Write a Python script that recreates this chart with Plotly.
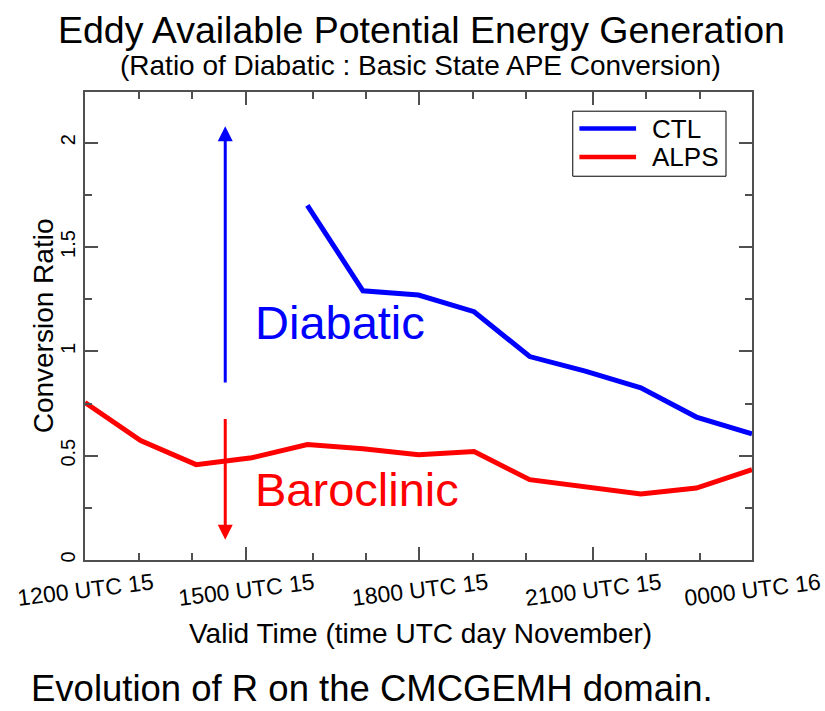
import plotly.graph_objects as go

# Hourly samples from 1200 UTC 15 Nov (hour 0) to 0000 UTC 16 Nov (hour 12)
hours = list(range(13))
ctl_hours = hours[4:]
ctl_ratio = [1.70, 1.29, 1.27, 1.19, 0.975, 0.905, 0.825, 0.685, 0.605]
alps_ratio = [0.755, 0.573, 0.457, 0.49, 0.553, 0.533, 0.505, 0.52,
              0.385, 0.348, 0.316, 0.345, 0.433]

tick_hours = [0, 2.895, 6.017, 9.135, 12]
tick_labels = ["1200 UTC 15", "1500 UTC 15", "1800 UTC 15",
               "2100 UTC 15", "0000 UTC 16"]
minor_tick_hours = [0.964, 1.924, 4.093, 5.053, 6.977, 7.936, 10.094, 11.06]

# Regime arrows: (hour, tail, tip)
diabatic_arrow = (2.523, 0.844, 2.079)
baroclinic_arrow = (2.523, 0.683, 0.097)

FONT = "Liberation Sans, Arial, Helvetica, sans-serif"
BLUE = "#0000ff"
RED = "#ff0000"
AXIS = "#505050"

fig = go.Figure()
fig.add_trace(go.Scatter(x=ctl_hours, y=ctl_ratio, mode="lines", name="CTL",
                         line=dict(color=BLUE, width=5), showlegend=False))
fig.add_trace(go.Scatter(x=hours, y=alps_ratio, mode="lines", name="ALPS",
                         line=dict(color=RED, width=5), showlegend=False))

annotations = []
for (hx, tail, tip), col in ((diabatic_arrow, BLUE), (baroclinic_arrow, RED)):
    annotations.append(dict(x=hx, y=tip, ax=hx, ay=tail, xref="x", yref="y",
                            axref="x", ayref="y", text="", showarrow=True,
                            arrowhead=2, arrowsize=1, arrowwidth=3,
                            arrowcolor=col, standoff=0, startstandoff=0))

annotations += [
    dict(x=3.03, y=1.14, xref="x", yref="y", text="Diabatic", showarrow=False,
         xanchor="left", yanchor="middle", font=dict(family=FONT, size=47, color=BLUE)),
    dict(x=3.02, y=0.34, xref="x", yref="y", text="Baroclinic", showarrow=False,
         xanchor="left", yanchor="middle", font=dict(family=FONT, size=47, color=RED)),
    dict(x=0.5045, y=1.1315, xref="paper", yref="paper", showarrow=False,
         xanchor="center", yanchor="middle",
         text="Eddy Available Potential Energy Generation",
         font=dict(family=FONT, size=37.5, color="black")),
    dict(x=0.5025, y=1.0566, xref="paper", yref="paper", showarrow=False,
         xanchor="center", yanchor="middle",
         text="(Ratio of Diabatic : Basic State APE Conversion)",
         font=dict(family=FONT, size=28, color="black")),
    dict(x=-0.0835, y=-0.2754, xref="paper", yref="paper", showarrow=False,
         xanchor="left", yanchor="middle",
         text="Evolution of R on the CMCGEMH domain.",
         font=dict(family=FONT, size=36.5, color="black")),
    dict(x=-0.0625, y=0.5, xref="paper", yref="paper", showarrow=False,
         xanchor="center", yanchor="middle", textangle=-90,
         text="Conversion Ratio", font=dict(family=FONT, size=28, color="black")),
    dict(x=0.5025, y=-0.158, xref="paper", yref="paper", showarrow=False,
         xanchor="center", yanchor="middle",
         text="Valid Time (time UTC day November)",
         font=dict(family=FONT, size=28, color="black")),
]

# Legend box drawn in plot-area coordinates
shapes = [
    dict(type="rect", xref="paper", yref="paper", x0=0.7313, x1=0.9610,
         y0=0.820, y1=0.959, line=dict(color="black", width=1), fillcolor="white"),
    dict(type="line", xref="paper", yref="paper", x0=0.7412, x1=0.8262,
         y0=0.9220, y1=0.9220, line=dict(color=BLUE, width=4.5)),
    dict(type="line", xref="paper", yref="paper", x0=0.7412, x1=0.8262,
         y0=0.8613, y1=0.8613, line=dict(color=RED, width=4.5)),
]
for name, yp in (("CTL", 0.9220), ("ALPS", 0.8613)):
    annotations.append(dict(x=0.8471, y=yp, xref="paper", yref="paper",
                            text=name, showarrow=False, xanchor="left",
                            yanchor="middle",
                            font=dict(family=FONT, size=26, color="black")))

fig.update_layout(
    width=825, height=711,
    margin=dict(l=85, r=73, t=92, b=151, autoexpand=False),
    paper_bgcolor="white", plot_bgcolor="white",
    font=dict(family=FONT, color="black"),
    annotations=annotations, shapes=shapes,
    xaxis=dict(range=[0, 12], tickmode="array", tickvals=tick_hours,
               ticktext=tick_labels, tickangle=-7, ticks="inside", ticklen=13,
               tickwidth=1.5, tickcolor=AXIS, showline=True, linecolor=AXIS,
               linewidth=1.5, mirror="ticks", showgrid=False, zeroline=False,
               automargin=False,
               tickfont=dict(family=FONT, size=23, color="black"),
               ticklabelshift=68, ticklabelstandoff=0,
               minor=dict(tickmode="array", tickvals=minor_tick_hours,
                          ticks="inside", ticklen=7, tickwidth=1.5,
                          tickcolor=AXIS, showgrid=False)),
    yaxis=dict(range=[0, 2.243], tickmode="array", tickvals=[0, 0.5, 1, 1.5, 2],
               ticktext=["0", "0.5", "1", "1.5", "2"], tickangle=-90,
               ticks="inside", ticklen=13, tickwidth=1.5, tickcolor=AXIS,
               showline=True, linecolor=AXIS, linewidth=1.5, mirror="ticks",
               showgrid=False, zeroline=False, automargin=False,
               tickfont=dict(family=FONT, size=20, color="black"),
               minor=dict(dtick=0.25, ticks="inside", ticklen=7, tickwidth=1.5,
                          tickcolor=AXIS, showgrid=False)),
)

fig.write_html("out.html")
